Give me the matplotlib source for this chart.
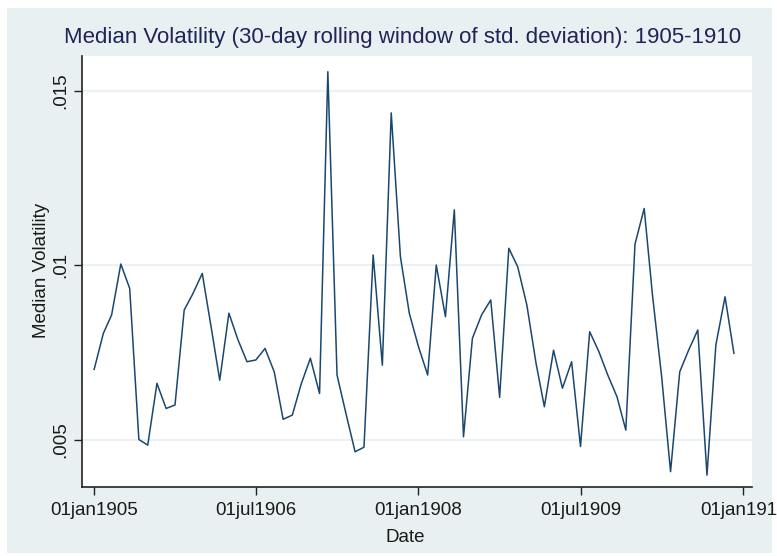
import datetime as dt
import matplotlib
matplotlib.use("Agg")
from matplotlib import pyplot as plt
from matplotlib.patches import Rectangle

# monthly medians of the 30-day rolling std. deviation, Jan 1905 .. Dec 1910
volatility = [
    0.00701, 0.00804, 0.00857, 0.01003, 0.00933, 0.00500, 0.00484, 0.00661,
    0.00589, 0.00599, 0.00871, 0.00919, 0.00976, 0.00817, 0.00670, 0.00862,
    0.00787, 0.00723, 0.00728, 0.00761, 0.00694, 0.00558, 0.00570, 0.00659,
    0.00733, 0.00632, 0.01554, 0.00685, 0.00575, 0.00465, 0.00478, 0.01029,
    0.00713, 0.01436, 0.01024, 0.00862, 0.00766, 0.00685, 0.01000, 0.00852,
    0.01158, 0.00508, 0.00790, 0.00857, 0.00900, 0.00621, 0.01048, 0.00995,
    0.00885, 0.00718, 0.00594, 0.00756, 0.00647, 0.00723, 0.00480, 0.00809,
    0.00752, 0.00685, 0.00623, 0.00527, 0.01060, 0.01162, 0.00914, 0.00680,
    0.00408, 0.00694, 0.00756, 0.00814, 0.00398, 0.00771, 0.00909, 0.00747,
]
dates = [dt.date(1905 + i // 12, i % 12 + 1, 1) for i in range(len(volatility))]

xtick_dates = [dt.date(1905, 1, 1), dt.date(1906, 7, 1), dt.date(1908, 1, 1),
               dt.date(1909, 7, 1), dt.date(1911, 1, 1)]
xtick_labels = ["01jan1905", "01jul1906", "01jan1908", "01jul1909", "01jan1911"]
ytick_values = [0.005, 0.01, 0.015]
ytick_labels = [".005", ".01", ".015"]

plt.rcParams["font.family"] = ["Liberation Sans", "DejaVu Sans"]

W, H = 777, 556
fig = plt.figure(figsize=(W / 100, H / 100), dpi=100)
fig.patch.set_facecolor("white")
# stata-ish graph region behind everything
fig.patches.append(Rectangle((7 / W, 3 / H), 765 / W, 545 / H, transform=fig.transFigure,
                             facecolor="#e8f0f2", edgecolor="none", zorder=-10))

ax = fig.add_axes([82 / W, 1 - 487 / H, 670 / W, 431 / H])
ax.set_zorder(1)
ax.set_facecolor("white")
ax.plot(dates, volatility, color="#1a476f", linewidth=1.1)

ax.set_xlim(dt.date(1904, 11, 21), dt.date(1911, 1, 31))
ax.set_ylim(0.00364, 0.01599)

ax.set_xticks(xtick_dates)
ax.set_xticklabels(xtick_labels)
ax.set_yticks(ytick_values)
ax.set_yticklabels(ytick_labels, rotation=90, va="center")
ax.tick_params(axis="both", direction="out", length=6, width=1, colors="#222222",
               labelsize=13.5, labelcolor="#1a1a1a")
ax.tick_params(axis="y", pad=3)
ax.tick_params(axis="x", pad=5)

ax.yaxis.grid(True, color="#eaf2f3", linewidth=1.5)
ax.set_axisbelow(True)
for s in ["top", "right"]:
    ax.spines[s].set_visible(False)
for s in ["left", "bottom"]:
    ax.spines[s].set_color("#222222")
    ax.spines[s].set_linewidth(1.2)

fig.text(403 / W, 1 - 38 / H, "Median Volatility (30-day rolling window of std. deviation): 1905-1910",
         ha="center", va="center", fontsize=16, color="#1e2557")
fig.text(42 / W, 1 - 270 / H, "Median Volatility", rotation=90, ha="center", va="center",
         fontsize=13.5, color="#1a1a1a")
fig.text(405 / W, 1 - 538 / H, "Date", ha="center", va="center", fontsize=13.5, color="#1a1a1a")

fig.savefig("out.png", dpi=100)
